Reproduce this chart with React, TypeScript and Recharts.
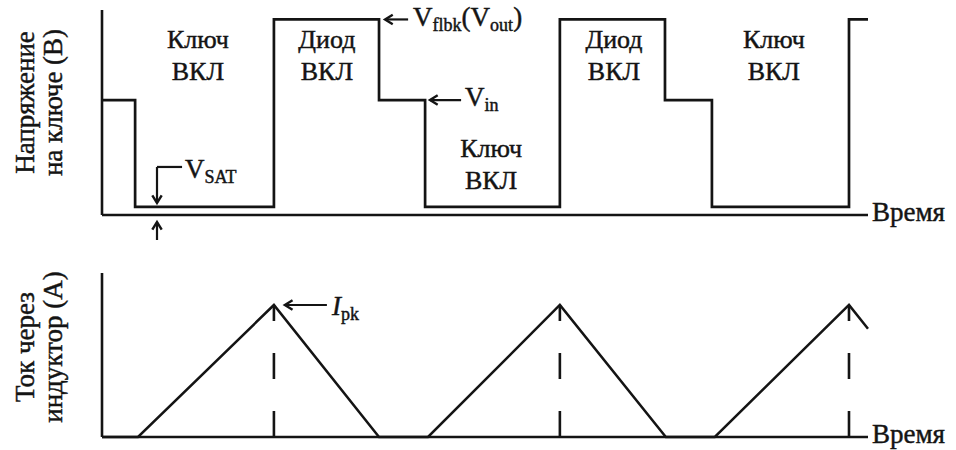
import React from "react";
import { LineChart, Line, XAxis, YAxis, ReferenceLine, ReferenceDot } from "recharts";

// Flyback switch waveforms: switch voltage (top) and inductor current (bottom)

const T_END = 26.6;

// switch voltage levels (V)
const V_TOP = 10.2;
const V_FLBK = 9.73;
const V_IN = 5.72;
const V_SAT = 0.4;

// step edges of the switch voltage
const switchTimes = [0, 1.15, 5.97, 9.62, 11.22, 15.9, 19.55, 21.18, 25.94, T_END];
const switchVolts = [V_IN, V_SAT, V_FLBK, V_IN, V_SAT, V_FLBK, V_IN, V_SAT, V_FLBK, V_FLBK];

// inductor current corners (A)
const I_TOP = 10;
const I_PK = 8.05;
const currentTimes = [0, 1.25, 5.97, 9.62, 11.32, 15.9, 19.58, 21.28, 25.94, T_END];
const currentAmps = [0, 0, I_PK, 0, 0, I_PK, 0, 0, I_PK, 6.6];
const peakTimes = [5.97, 15.9, 25.94];

// phase captions in the voltage plot
const phaseTimes = [3.33, 7.81, 13.51, 17.78, 23.33];
const phaseLevels = [8.31, 8.31, 2.89, 8.31, 8.31];
const phaseNames = ["Ключ", "Диод", "Ключ", "Диод", "Ключ"];
const phaseState = "ВКЛ";

const voltageData = switchTimes.map((t, i) => ({ t, v: switchVolts[i] }));
const currentData = currentTimes.map((t, i) => ({ t, a: currentAmps[i] }));

const INK = "#141414";
const FONT = "Liberation Serif";
const W = 956;
const MARGIN_L = 102;
const MARGIN_R = 88;

// shared look of every caption (a hairline stroke gives the glyphs some weight)
const ink = { fill: INK, stroke: INK, strokeWidth: 0.45, fontFamily: FONT };

// line with an open arrowhead at the second point, plus an optional caption
const arrow =
  (caption?: (x: number, y: number) => React.ReactNode, head = true) =>
  (props: any) => {
    const { x1, y1, x2, y2 } = props;
    const ang = Math.atan2(y2 - y1, x2 - x1);
    const len = 9;
    const spread = 0.55;
    const ax = x2 - len * Math.cos(ang - spread);
    const ay = y2 - len * Math.sin(ang - spread);
    const bx = x2 - len * Math.cos(ang + spread);
    const by = y2 - len * Math.sin(ang + spread);
    return (
      <g>
        <line x1={x1} y1={y1} x2={x2} y2={y2} stroke={INK} strokeWidth={2.2} />
        {head && (
          <polyline
            points={`${ax},${ay} ${x2},${y2} ${bx},${by}`}
            fill="none"
            stroke={INK}
            strokeWidth={2.4}
          />
        )}
        {caption && caption(x1, y1)}
      </g>
    );
  };

const sub = (main: string, low: string, x: number, y: number, italic = false) => (
  <text x={x} y={y} {...ink} fontSize={27}>
    <tspan fontStyle={italic ? "italic" : "normal"}>{main}</tspan>
    <tspan fontSize={18} dy={5}>
      {low}
    </tspan>
  </text>
);

const axisTitle = (lines: string[], dy: number) => (props: any) => {
  const vb = props.viewBox;
  const cy = vb.y + vb.height / 2 + dy;
  const xs = [25, 53];
  return (
    <g>
      {lines.map((s, i) => (
        <text
          key={s}
          transform={`translate(${xs[i]},${cy}) rotate(-90)`}
          textAnchor="middle"
          dominantBaseline="central"
          {...ink}
          fontSize={27}
        >
          {s}
        </text>
      ))}
    </g>
  );
};

const timeTitle = (props: any) => {
  const vb = props.viewBox;
  return (
    <text x={vb.x + vb.width + 4} y={vb.y + 6} {...ink} fontSize={27}>
      Время
    </text>
  );
};

const phaseCaption = (name: string) => (props: any) => {
  const { cx, cy } = props;
  return (
    <g {...ink} fontSize={26} textAnchor="middle">
      <text x={cx} y={cy}>
        {name}
      </text>
      <text x={cx} y={cy + 32}>
        {phaseState}
      </text>
    </g>
  );
};

// plain axis lines with their titles
const axes = (top: number, title: string[], dy: number) => [
  <ReferenceLine
    key="ax-x"
    y={0}
    stroke={INK}
    strokeWidth={2.6}
    label={{ content: timeTitle }}
  />,
  <ReferenceLine
    key="ax-y"
    segment={[
      { x: 0, y: 0 },
      { x: 0, y: top },
    ]}
    stroke={INK}
    strokeWidth={2.6}
    label={{ content: axisTitle(title, dy) }}
  />,
];

export default function App() {
  return (
    <div style={{ width: W, height: 450, background: "#fff" }}>
      <style>{"body{margin:0;background:#fff}"}</style>
      <LineChart
        width={W}
        height={240}
        data={voltageData}
        margin={{ top: 10, right: MARGIN_R, bottom: 25, left: MARGIN_L }}
      >
        <XAxis type="number" dataKey="t" domain={[0, T_END]} hide />
        <YAxis type="number" domain={[0, V_TOP]} hide />
        {axes(V_TOP, ["Напряжение", "на ключе (В)"], -10)}
        <Line
          type="stepAfter"
          dataKey="v"
          stroke={INK}
          strokeWidth={2.7}
          dot={false}
          isAnimationActive={false}
        />
        {phaseTimes.map((t, i) => (
          <ReferenceDot
            key={`ph-${i}`}
            x={t}
            y={phaseLevels[i]}
            r={0}
            shape={phaseCaption(phaseNames[i])}
          />
        ))}
        <ReferenceLine
          segment={[
            { x: 10.63, y: V_FLBK },
            { x: 9.83, y: V_FLBK },
          ]}
          shape={arrow((x, y) => (
            <text x={x + 5} y={y + 7} {...ink} fontSize={27}>
              V
              <tspan fontSize={18} dy={5}>
                flbk
              </tspan>
              <tspan dy={-5}>(V</tspan>
              <tspan fontSize={18} dy={5}>
                out
              </tspan>
              <tspan dy={-5}>)</tspan>
            </text>
          ))}
        />
        <ReferenceLine
          segment={[
            { x: 12.47, y: V_IN },
            { x: 11.39, y: V_IN },
          ]}
          shape={arrow((x, y) => sub("V", "in", x + 4, y + 6))}
        />
        <ReferenceLine
          segment={[
            { x: 2.78, y: 2.39 },
            { x: 1.91, y: 2.39 },
          ]}
          shape={arrow((x, y) => sub("V", "SAT", x + 3, y + 11), false)}
        />
        <ReferenceLine
          segment={[
            { x: 1.91, y: 2.39 },
            { x: 1.91, y: V_SAT + 0.2 },
          ]}
          shape={arrow()}
        />
        <ReferenceLine
          ifOverflow="visible"
          segment={[
            { x: 1.91, y: -1.6 },
            { x: 1.91, y: -0.35 },
          ]}
          shape={arrow()}
        />
      </LineChart>

      <LineChart
        width={W}
        height={210}
        data={currentData}
        margin={{ top: 33, right: MARGIN_R, bottom: 13, left: MARGIN_L }}
      >
        <XAxis type="number" dataKey="t" domain={[0, T_END]} hide />
        <YAxis type="number" domain={[0, I_TOP]} hide />
        {axes(I_TOP, ["Ток через", "индуктор (А)"], -8)}
        {peakTimes.map((t) => (
          <ReferenceLine
            key={`pk-${t}`}
            segment={[
              { x: t, y: 0 },
              { x: t, y: I_PK },
            ]}
            stroke={INK}
            strokeWidth={2.6}
            strokeDasharray="26 32"
          />
        ))}
        <Line
          type="linear"
          dataKey="a"
          stroke={INK}
          strokeWidth={2.5}
          dot={false}
          isAnimationActive={false}
        />
        <ReferenceLine
          segment={[
            { x: 7.81, y: I_PK },
            { x: 6.35, y: I_PK },
          ]}
          shape={arrow((x, y) => sub("I", "pk", x + 5, y + 10, true))}
        />
      </LineChart>
    </div>
  );
}
